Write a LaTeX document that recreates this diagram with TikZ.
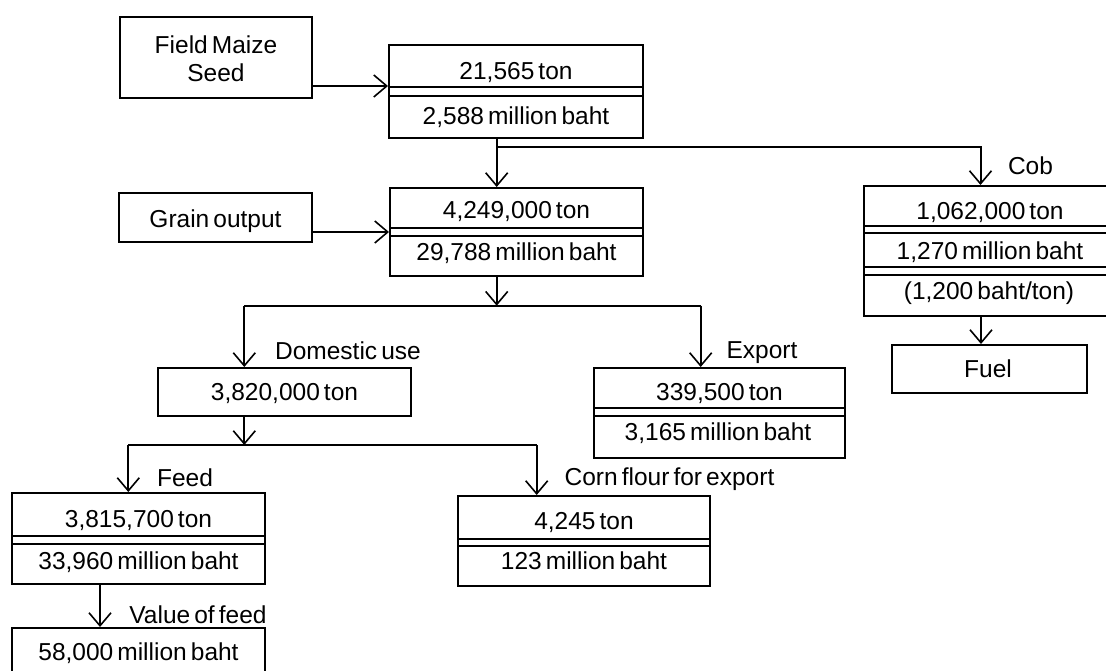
\documentclass[tikz,border=0pt]{standalone}
\usepackage{fontspec}
\setmainfont[WordSpace=0.6]{Liberation Sans}
\usetikzlibrary{arrows.meta}
\begin{document}
\begin{tikzpicture}[x=1pt,y=-1pt,
  box/.style={draw, line width=2pt, rectangle, inner sep=0pt},
  sep/.style={line width=2pt},
  conn/.style={line width=2pt},
  arr/.style={line width=2pt, -{Straight Barb[length=13pt,width=22pt,line width=1.6pt]}},
  txt/.style={font=\fontsize{24.5}{28}\selectfont, inner sep=0pt, text height=17pt, text depth=0pt}]
\useasboundingbox (0,0) rectangle (1106,671);
\clip (0,0) rectangle (1106,671);
\fill[white] (0,0) rectangle (1106,671);

% boxes
\node[box, minimum width=192pt, minimum height=81pt] (seed) at (216,57.5) {};
\node[box, minimum width=254pt, minimum height=93pt] (b1) at (516,91.7) {};
\node[box, minimum width=193pt, minimum height=49pt] (grain) at (215.5,217.5) {};
\node[box, minimum width=253pt, minimum height=88pt] (b2) at (516.5,232) {};
\node[box, minimum width=252pt, minimum height=130pt] (cob) at (990,251) {};
\node[box, minimum width=195pt, minimum height=48pt] (fuel) at (989.5,369) {};
\node[box, minimum width=253pt, minimum height=48pt] (dom) at (284.5,392) {};
\node[box, minimum width=251pt, minimum height=90pt] (exp) at (719.5,413) {};
\node[box, minimum width=253pt, minimum height=91pt] (feed) at (138.5,538.5) {};
\node[box, minimum width=252pt, minimum height=90pt] (corn) at (584,541) {};
\node[box, minimum width=253pt, minimum height=48pt] (val) at (138.5,652) {};

% double separators
\draw[sep] (b1.west |- 0,87.5) -- (b1.east |- 0,87.5);
\draw[sep] (b1.west |- 0,95.7) -- (b1.east |- 0,95.7);
\draw[sep] (b2.west |- 0,228) -- (b2.east |- 0,228);
\draw[sep] (b2.west |- 0,236) -- (b2.east |- 0,236);
\draw[sep] (cob.west |- 0,226) -- (cob.east |- 0,226);
\draw[sep] (cob.west |- 0,233.5) -- (cob.east |- 0,233.5);
\draw[sep] (cob.west |- 0,267) -- (cob.east |- 0,267);
\draw[sep] (cob.west |- 0,275) -- (cob.east |- 0,275);
\draw[sep] (exp.west |- 0,408) -- (exp.east |- 0,408);
\draw[sep] (exp.west |- 0,416) -- (exp.east |- 0,416);
\draw[sep] (feed.west |- 0,536) -- (feed.east |- 0,536);
\draw[sep] (feed.west |- 0,544) -- (feed.east |- 0,544);
\draw[sep] (corn.west |- 0,539) -- (corn.east |- 0,539);
\draw[sep] (corn.west |- 0,546) -- (corn.east |- 0,546);

% texts in boxes
\node[txt] (tseed1) at (216,44.6) {Field Maize};
\node[txt] (tseed2) at (216,73) {Seed};
\node[txt] (tb1a) at (516,71.4) {21,565 ton};
\node[txt] (tb1b) at (516,116) {2,588 million baht};
\node[txt] (tgrain) at (215.5,219) {Grain output};
\node[txt] (tb2a) at (516.5,210) {4,249,000 ton};
\node[txt] (tb2b) at (516.5,251.7) {29,788 million baht};
\node[txt] (tcoba) at (990,211) {1,062,000 ton};
\node[txt] (tcobb) at (990,251) {1,270 million baht};
\node[txt] (tcobc) at (989,291) {(1,200 baht/ton)};
\node[txt] (tfuel) at (988,369) {Fuel};
\node[txt] (tdom) at (284.5,391.7) {3,820,000 ton};
\node[txt] (texpa) at (719.5,392) {339,500 ton};
\node[txt] (texpb) at (718,432) {3,165 million baht};
\node[txt] (tfeeda) at (138.5,519) {3,815,700 ton};
\node[txt] (tfeedb) at (138.5,560.7) {33,960 million baht};
\node[txt] (tcorna) at (584,520.5) {4,245 ton};
\node[txt] (tcornb) at (584,560.5) {123 million baht};
\node[txt] (tval) at (138.5,651.7) {58,000 million baht};

% labels
\node[txt] (lcob) at (1030.5,166) {Cob};
\node[txt] (ldom) at (348,351) {Domestic use};
\node[txt] (lexp) at (762,350) {Export};
\node[txt] (lfeed) at (185,478) {Feed};
\node[txt] (lcorn) at (669.5,476.7) {Corn flour for export};
\node[txt] (lval) at (198,614.5) {Value of feed};

% junctions
\coordinate (j1) at (496.7,146.7);
\coordinate (j2) at (496.7,305.7);
\coordinate (jl) at (244.3,305.7);
\coordinate (jr) at (700.7,305.7);
\coordinate (j3) at (244.3,445);
\coordinate (jf) at (128.3,445);
\coordinate (jc) at (536.7,445);

% connectors
\draw[arr] (seed.east |- 0,86) -- (b1.west |- 0,86);
\draw[arr] (grain.east |- 0,232) -- (b2.west |- 0,232);
\draw[arr] (b1.south -| j1) -- (b2.north -| j1);
\draw[arr] (j1) -| (cob.north -| 980.5,0);
\draw[arr] (cob.south -| 981,0) -- (fuel.north -| 981,0);
\draw[arr] (b2.south -| j2) -- (j2);
\draw[conn] (jl) -- (jr);
\draw[arr] (jl) -- (dom.north -| jl);
\draw[arr] (jr) -- (exp.north -| jr);
\draw[arr] (dom.south -| j3) -- (j3);
\draw[conn] (jf) -- (jc);
\draw[arr] (jf) -- (feed.north -| jf);
\draw[arr] (jc) -- (corn.north -| jc);
\draw[arr] (feed.south -| 100,0) -- (val.north -| 100,0);
\end{tikzpicture}
\end{document}
